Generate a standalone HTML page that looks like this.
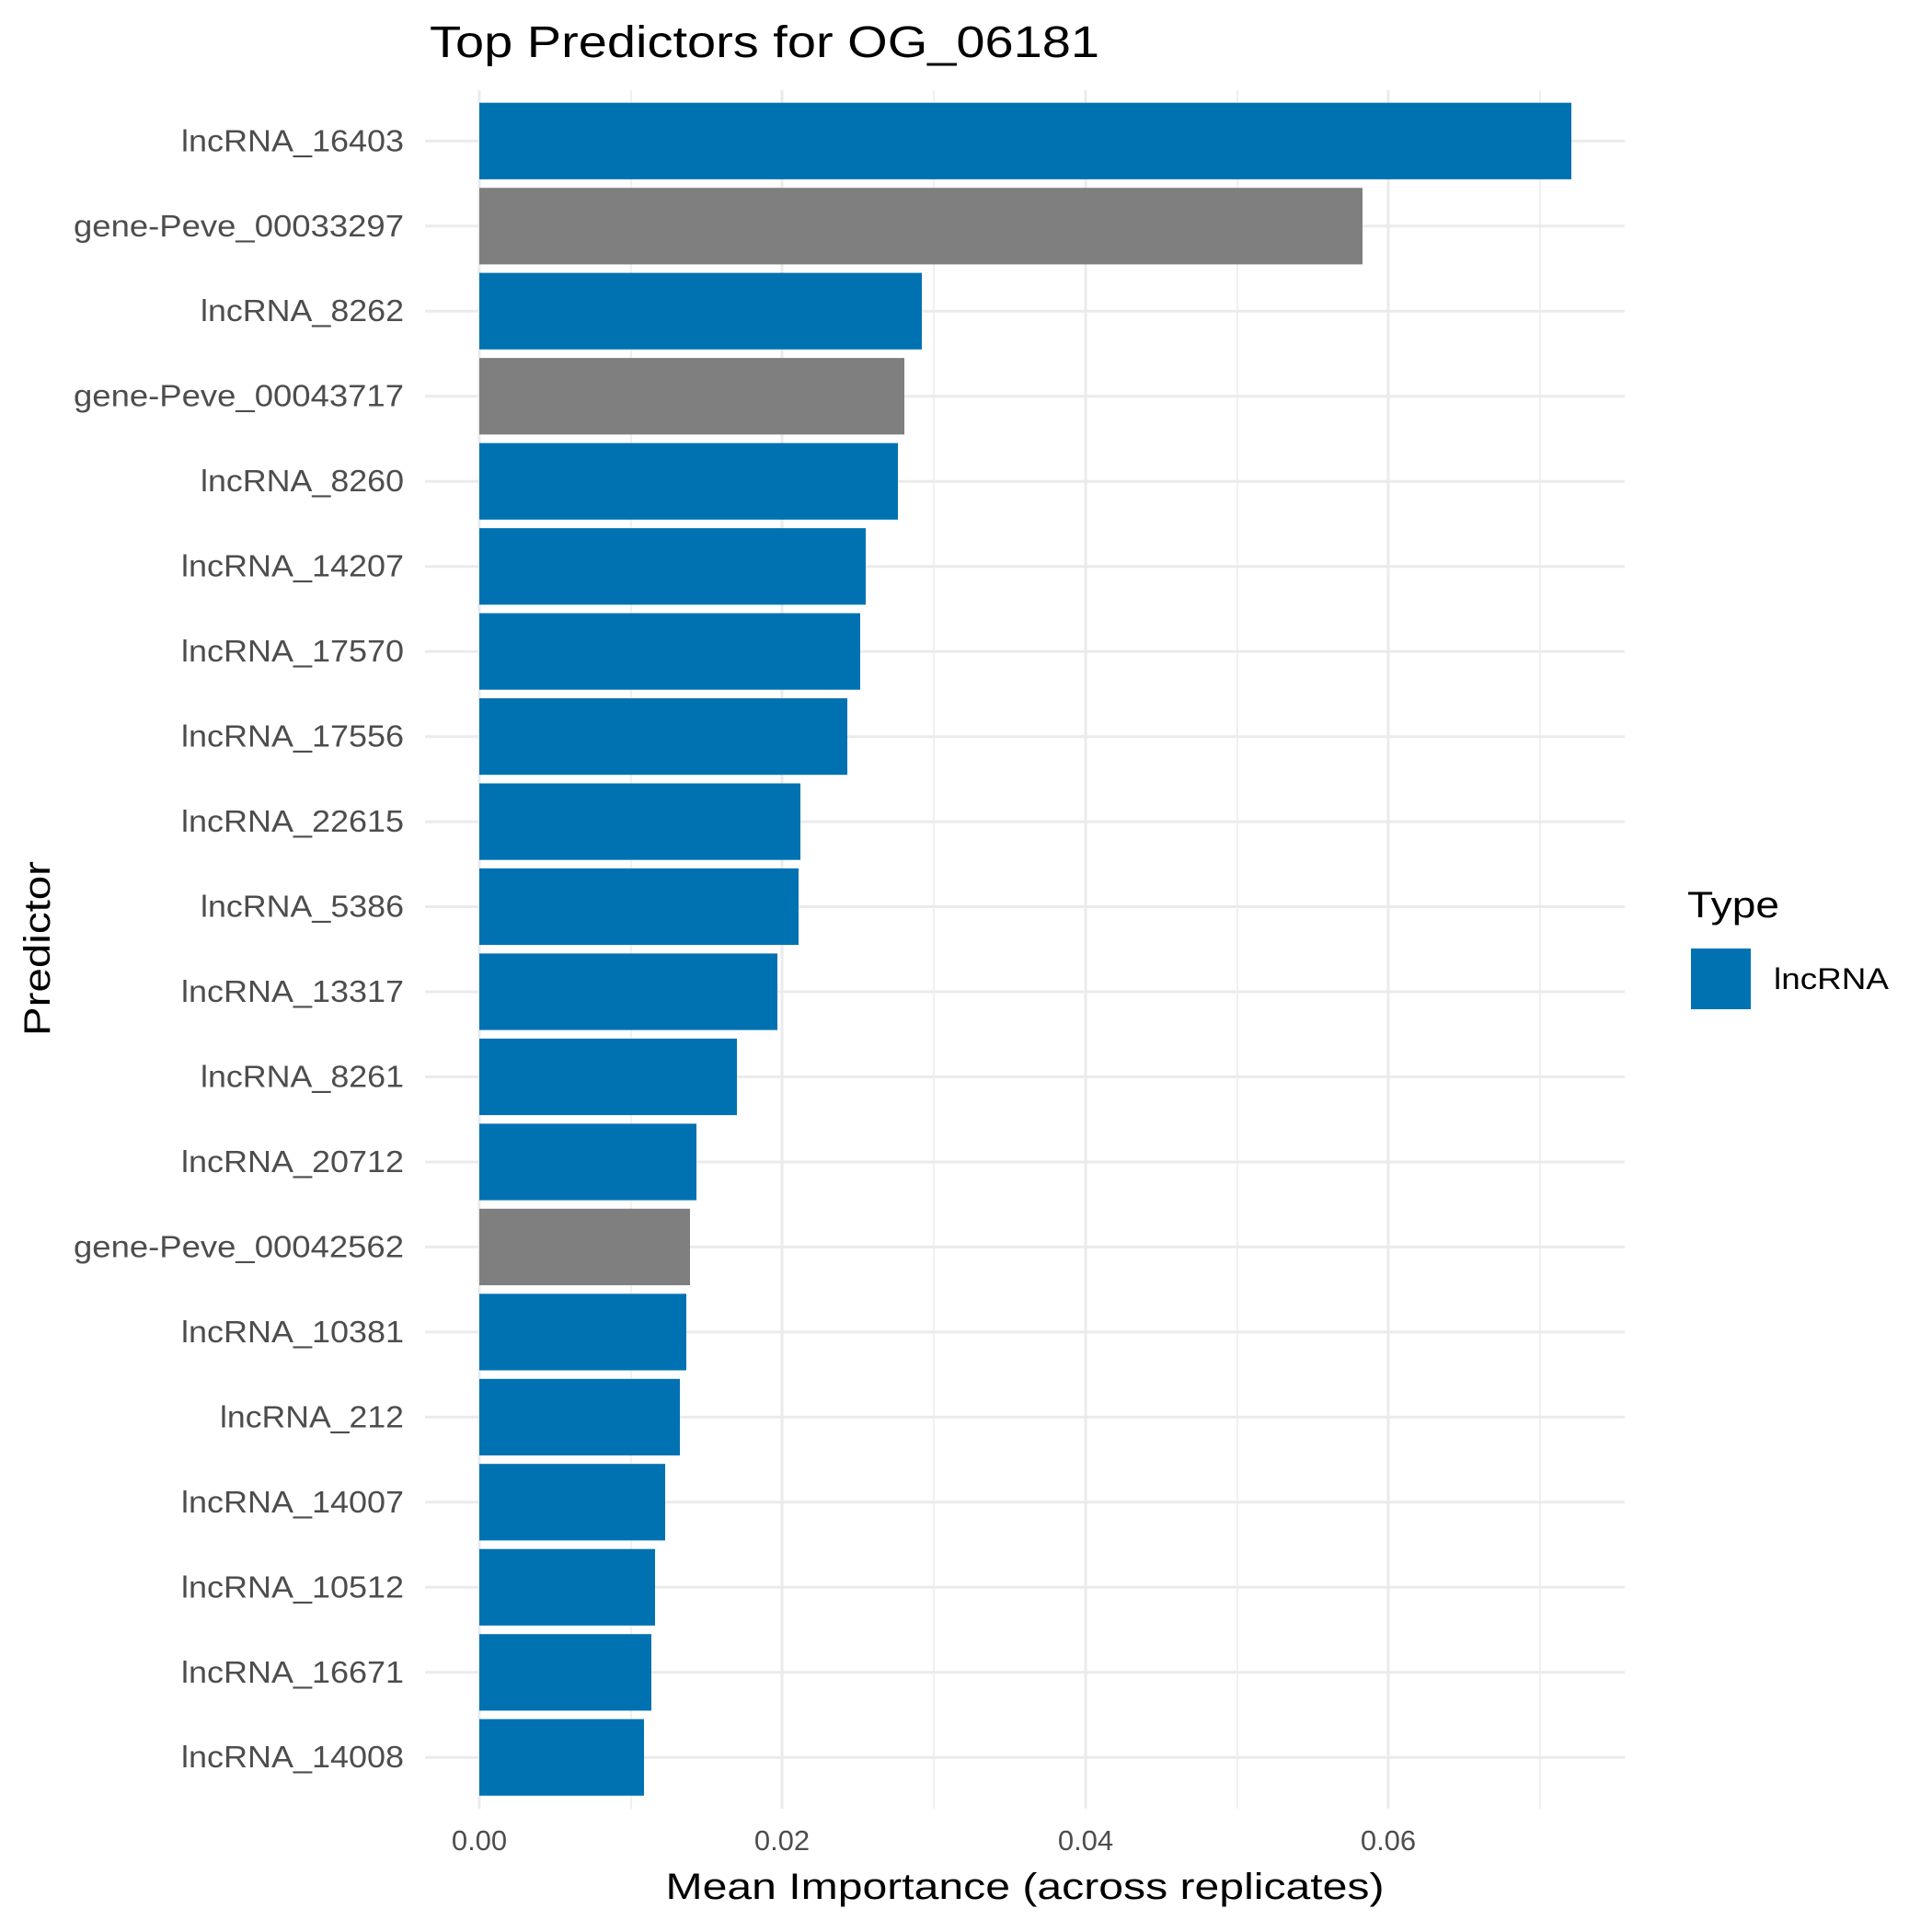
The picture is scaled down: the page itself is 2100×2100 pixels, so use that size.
<!DOCTYPE html>
<html><head><meta charset="utf-8"><style>html,body{margin:0;padding:0;background:#fff}svg{display:block}</style></head>
<body>
<svg width="2100" height="2100" xmlns="http://www.w3.org/2000/svg" font-family="'Liberation Sans', 'DejaVu Sans', sans-serif">
<rect width="2100" height="2100" fill="#fff"/>
<g stroke="#ebebeb">
<line x1="686" y1="98" x2="686" y2="1966" stroke-width="1.5"/>
<line x1="1015" y1="98" x2="1015" y2="1966" stroke-width="1.5"/>
<line x1="1345" y1="98" x2="1345" y2="1966" stroke-width="1.5"/>
<line x1="1674" y1="98" x2="1674" y2="1966" stroke-width="1.5"/>
<line x1="521" y1="98" x2="521" y2="1966" stroke-width="3"/>
<line x1="850" y1="98" x2="850" y2="1966" stroke-width="3"/>
<line x1="1180" y1="98" x2="1180" y2="1966" stroke-width="3"/>
<line x1="1509" y1="98" x2="1509" y2="1966" stroke-width="3"/>
</g>
<g stroke="#ebebeb" stroke-width="3">
<line x1="462" x2="1766" y1="153.3" y2="153.3"/>
<line x1="462" x2="1766" y1="245.8" y2="245.8"/>
<line x1="462" x2="1766" y1="338.2" y2="338.2"/>
<line x1="462" x2="1766" y1="430.7" y2="430.7"/>
<line x1="462" x2="1766" y1="523.2" y2="523.2"/>
<line x1="462" x2="1766" y1="615.7" y2="615.7"/>
<line x1="462" x2="1766" y1="708.1" y2="708.1"/>
<line x1="462" x2="1766" y1="800.6" y2="800.6"/>
<line x1="462" x2="1766" y1="893.1" y2="893.1"/>
<line x1="462" x2="1766" y1="985.5" y2="985.5"/>
<line x1="462" x2="1766" y1="1078.0" y2="1078.0"/>
<line x1="462" x2="1766" y1="1170.5" y2="1170.5"/>
<line x1="462" x2="1766" y1="1263.0" y2="1263.0"/>
<line x1="462" x2="1766" y1="1355.4" y2="1355.4"/>
<line x1="462" x2="1766" y1="1447.9" y2="1447.9"/>
<line x1="462" x2="1766" y1="1540.4" y2="1540.4"/>
<line x1="462" x2="1766" y1="1632.8" y2="1632.8"/>
<line x1="462" x2="1766" y1="1725.3" y2="1725.3"/>
<line x1="462" x2="1766" y1="1817.8" y2="1817.8"/>
<line x1="462" x2="1766" y1="1910.2" y2="1910.2"/>
</g>
<g>
<rect x="521" y="111.7" width="1187" height="83.2" fill="#0072B2"/>
<rect x="521" y="204.2" width="960" height="83.2" fill="#7f7f7f"/>
<rect x="521" y="296.6" width="481" height="83.2" fill="#0072B2"/>
<rect x="521" y="389.1" width="462" height="83.2" fill="#7f7f7f"/>
<rect x="521" y="481.6" width="455" height="83.2" fill="#0072B2"/>
<rect x="521" y="574.1" width="420" height="83.2" fill="#0072B2"/>
<rect x="521" y="666.5" width="414" height="83.2" fill="#0072B2"/>
<rect x="521" y="759.0" width="400" height="83.2" fill="#0072B2"/>
<rect x="521" y="851.5" width="349" height="83.2" fill="#0072B2"/>
<rect x="521" y="943.9" width="347" height="83.2" fill="#0072B2"/>
<rect x="521" y="1036.4" width="324" height="83.2" fill="#0072B2"/>
<rect x="521" y="1128.9" width="280" height="83.2" fill="#0072B2"/>
<rect x="521" y="1221.4" width="236" height="83.2" fill="#0072B2"/>
<rect x="521" y="1313.8" width="229" height="83.2" fill="#7f7f7f"/>
<rect x="521" y="1406.3" width="225" height="83.2" fill="#0072B2"/>
<rect x="521" y="1498.8" width="218" height="83.2" fill="#0072B2"/>
<rect x="521" y="1591.2" width="202" height="83.2" fill="#0072B2"/>
<rect x="521" y="1683.7" width="191" height="83.2" fill="#0072B2"/>
<rect x="521" y="1776.2" width="187" height="83.2" fill="#0072B2"/>
<rect x="521" y="1868.6" width="179" height="83.2" fill="#0072B2"/>
</g>
<g font-size="33" fill="#4d4d4d" text-anchor="end" lengthAdjust="spacingAndGlyphs">
<text x="439" y="164.3" textLength="242" lengthAdjust="spacingAndGlyphs">lncRNA_16403</text>
<text x="439" y="256.8" textLength="359" lengthAdjust="spacingAndGlyphs">gene-Peve_00033297</text>
<text x="439" y="349.2" textLength="221" lengthAdjust="spacingAndGlyphs">lncRNA_8262</text>
<text x="439" y="441.7" textLength="359" lengthAdjust="spacingAndGlyphs">gene-Peve_00043717</text>
<text x="439" y="534.2" textLength="221" lengthAdjust="spacingAndGlyphs">lncRNA_8260</text>
<text x="439" y="626.7" textLength="242" lengthAdjust="spacingAndGlyphs">lncRNA_14207</text>
<text x="439" y="719.1" textLength="242" lengthAdjust="spacingAndGlyphs">lncRNA_17570</text>
<text x="439" y="811.6" textLength="242" lengthAdjust="spacingAndGlyphs">lncRNA_17556</text>
<text x="439" y="904.1" textLength="242" lengthAdjust="spacingAndGlyphs">lncRNA_22615</text>
<text x="439" y="996.5" textLength="221" lengthAdjust="spacingAndGlyphs">lncRNA_5386</text>
<text x="439" y="1089.0" textLength="242" lengthAdjust="spacingAndGlyphs">lncRNA_13317</text>
<text x="439" y="1181.5" textLength="221" lengthAdjust="spacingAndGlyphs">lncRNA_8261</text>
<text x="439" y="1274.0" textLength="242" lengthAdjust="spacingAndGlyphs">lncRNA_20712</text>
<text x="439" y="1366.4" textLength="359" lengthAdjust="spacingAndGlyphs">gene-Peve_00042562</text>
<text x="439" y="1458.9" textLength="242" lengthAdjust="spacingAndGlyphs">lncRNA_10381</text>
<text x="439" y="1551.4" textLength="200" lengthAdjust="spacingAndGlyphs">lncRNA_212</text>
<text x="439" y="1643.8" textLength="242" lengthAdjust="spacingAndGlyphs">lncRNA_14007</text>
<text x="439" y="1736.3" textLength="242" lengthAdjust="spacingAndGlyphs">lncRNA_10512</text>
<text x="439" y="1828.8" textLength="242" lengthAdjust="spacingAndGlyphs">lncRNA_16671</text>
<text x="439" y="1921.2" textLength="242" lengthAdjust="spacingAndGlyphs">lncRNA_14008</text>
</g>
<text x="467" y="62" font-size="48" fill="#000" textLength="728" lengthAdjust="spacingAndGlyphs">Top Predictors for OG_06181</text>
<g font-size="31" fill="#4d4d4d" text-anchor="middle">
<text x="521" y="2011">0.00</text><text x="850" y="2011">0.02</text><text x="1180" y="2011">0.04</text><text x="1509" y="2011">0.06</text>
</g>
<text x="1114" y="2064" font-size="40" text-anchor="middle" fill="#000" textLength="781" lengthAdjust="spacingAndGlyphs">Mean Importance (across replicates)</text>
<text transform="translate(54,1031) rotate(-90)" font-size="40" text-anchor="middle" fill="#000" textLength="190" lengthAdjust="spacingAndGlyphs">Predictor</text>
<text x="1834" y="997" font-size="40" fill="#000" textLength="100" lengthAdjust="spacingAndGlyphs">Type</text>
<rect x="1838" y="1031" width="65" height="66" fill="#0072B2"/>
<text x="1928" y="1075" font-size="32" fill="#000" textLength="125" lengthAdjust="spacingAndGlyphs">lncRNA</text>
</svg>
</body></html>
